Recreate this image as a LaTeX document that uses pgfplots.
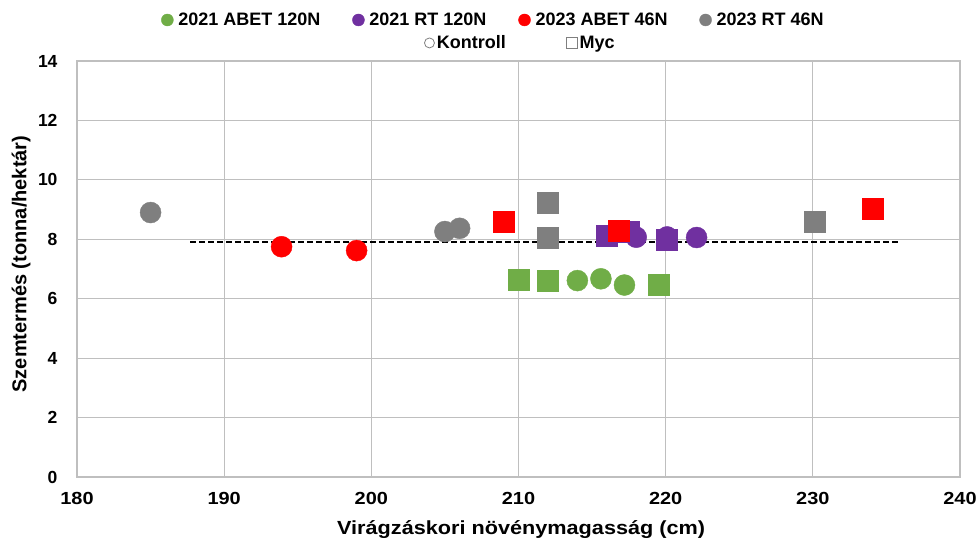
\documentclass[border=0pt]{standalone}
\usepackage{fontspec}
\setmainfont{Liberation Sans}
\newfontfamily\widefont{Liberation Sans}[FakeStretch=1.14]
\usepackage{pgfplots}
\pgfplotsset{compat=1.18}
\definecolor{cgreen}{HTML}{70AD47}
\definecolor{cpurple}{HTML}{7030A0}
\definecolor{cred}{HTML}{FF0000}
\definecolor{cgray}{HTML}{7F7F7F}
\definecolor{cgrid}{HTML}{BFBFBF}
\begin{document}
\begin{tikzpicture}
\begin{axis}[name=ax, scale only axis, width=883pt, height=416pt,
 clip=false,
 xmin=180, xmax=240, ymin=0, ymax=14,
 xtick={180,190,...,240}, ytick={0,2,...,14},
 grid=major, major grid style={cgrid, line width=1.2pt},
 axis line style={cgrid, line width=1.2pt},
 major tick length=0pt,
 /pgf/number format/assume math mode=true,
 xticklabel style={font=\widefont\fontsize{17.5}{20}\selectfont\bfseries, yshift=-12pt},
 yticklabel style={font=\fontsize{17.5}{20}\selectfont\bfseries, xshift=-16pt},
 xlabel={Virágzáskori növénymagasság (cm)}, ylabel={Szemtermés (tonna/hektár)},
 xlabel style={font=\widefont\fontsize{19}{22}\selectfont\bfseries, at={(axis description cs:0.503,-0.1394)}, anchor=base},
 ylabel style={font=\fontsize{20}{22}\selectfont\bfseries, at={(axis description cs:-0.0634,0.512)}, anchor=center},
 legend columns=4,
 legend style={draw=none, fill=none, at={(axis description cs:0.4717,1.0986)}, anchor=center,
   font=\fontsize{18}{20}\selectfont\bfseries,
   /tikz/every even column/.append style={column sep=30pt},
   /tikz/every odd column/.append style={column sep=3pt}},
 legend cell align=left,
]
\addlegendimage{only marks, mark=*, mark size=6pt, cgreen}\addlegendentry{2021 ABET 120N}
\addlegendimage{only marks, mark=*, mark size=6pt, cpurple}\addlegendentry{2021 RT 120N}
\addlegendimage{only marks, mark=*, mark size=6pt, cred}\addlegendentry{2023 ABET 46N}
\addlegendimage{only marks, mark=*, mark size=6pt, cgray}\addlegendentry{2023 RT 46N}

\addplot[black, line width=1.6pt, dash pattern=on 6pt off 3pt, forget plot] coordinates {(187.7,7.91) (235.8,7.91)};

% Kontroll (circles)
\addplot[only marks, mark=*, mark size=10.5pt, cgreen, forget plot] coordinates {(214.0,6.61) (215.6,6.67) (217.2,6.46)};
\addplot[only marks, mark=*, mark size=10.5pt, cpurple, forget plot] coordinates {(218.0,8.07) (220.1,8.08) (222.1,8.06)};
\addplot[only marks, mark=*, mark size=10.5pt, cred, forget plot] coordinates {(193.9,7.75) (199.0,7.62)};
\addplot[only marks, mark=*, mark size=10.5pt, cgray, forget plot] coordinates {(185.0,8.90) (205.0,8.26) (206.0,8.37)};
% Myc (squares)
\addplot[only marks, mark=square*, mark size=10.5pt, cgreen, forget plot] coordinates {(210.0,6.63) (212.0,6.60) (219.5,6.48)};
\addplot[only marks, mark=square*, mark size=10.5pt, cpurple, forget plot] coordinates {(216.0,8.11) (217.5,8.24) (220.1,7.98)};
\addplot[only marks, mark=square*, mark size=10.5pt, cred, forget plot] coordinates {(209.0,8.59) (216.8,8.29) (234.1,9.04)};
\addplot[only marks, mark=square*, mark size=10.5pt, cgray, forget plot] coordinates {(212.0,9.23) (212.0,8.05) (230.1,8.59)};

\node[anchor=center, font=\fontsize{18}{20}\selectfont\bfseries, inner sep=0pt] at (axis description cs:0.501,1.0409)
 {\tikz[baseline=-0.6ex]\draw[cgray, line width=0.8pt] (0,0) circle (5pt);\hspace{2pt}Kontroll\hspace{60pt}\tikz[baseline=-0.6ex]\draw[cgray, line width=0.8pt] (-5.5pt,-5.5pt) rectangle (5.5pt,5.5pt);\hspace{2pt}Myc};
\end{axis}
\pgfresetboundingbox
\path[use as bounding box] ([shift={(-77pt,-64pt)}]ax.south west) rectangle ([shift={(18pt,61pt)}]ax.north east);
\end{tikzpicture}
\end{document}
